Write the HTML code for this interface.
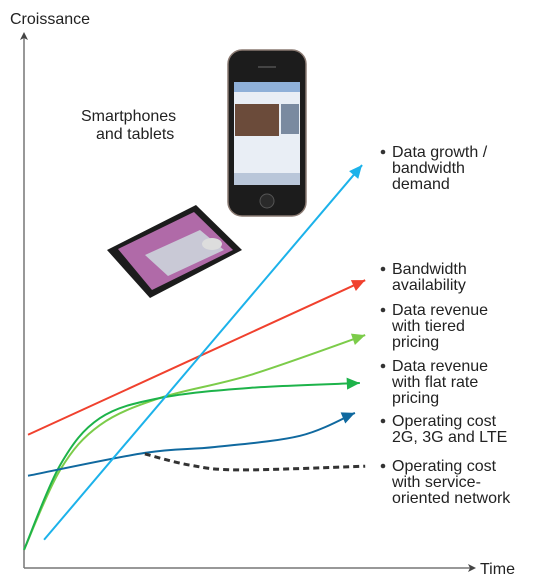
<!DOCTYPE html>
<html><head><meta charset="utf-8"><style>
body{margin:0;background:#fff;}
svg{display:block;font-family:"Liberation Sans",sans-serif;}
</style></head><body>
<svg id="chart" width="539" height="586" viewBox="0 0 539 586">
<defs>
<marker id="ax" markerWidth="8" markerHeight="8" refX="6" refY="4" orient="auto" markerUnits="userSpaceOnUse"><path d="M0,0 L8,4 L0,8 L2,4z" fill="#444"/></marker>
</defs>
<g><line x1="24" y1="568" x2="24" y2="34" stroke="#777" stroke-width="1.5" marker-end="url(#ax)"/></g>
<g><line x1="24" y1="568" x2="474" y2="568" stroke="#777" stroke-width="1.5" marker-end="url(#ax)"/></g>
<text x="10" y="24" font-size="16" fill="#222">Croissance</text>
<text x="480" y="574" font-size="16" fill="#222">Time</text>
<text font-size="16" fill="#222"><tspan x="81" y="121">Smartphones</tspan><tspan x="96" y="139">and tablets</tspan></text>
<g>
<rect x="228" y="50" width="78" height="166" rx="14" fill="#1c1c1c" stroke="#8a7a72" stroke-width="1.5"/>
<rect x="234" y="82" width="66" height="103" fill="#e9eef5"/>
<rect x="234" y="82" width="66" height="10" fill="#8fb0d8"/>
<rect x="235" y="104" width="44" height="32" fill="#6b4b3a"/>
<rect x="281" y="104" width="18" height="30" fill="#7a8aa0"/>
<rect x="234" y="173" width="66" height="12" fill="#b9c6d9"/>
<circle cx="267" cy="201" r="7" fill="#2a2a2a" stroke="#555"/>
<rect x="258" y="66" width="18" height="2" fill="#444"/>
</g>
<g>
<polygon points="107,250 196,205 242,250 150,298" fill="#1c1c1c"/>
<polygon points="118,249 194,212 233,250 152,290" fill="#b06aa8"/>
<polygon points="145,255 200,230 224,250 168,276" fill="#c9c9d6"/>
<ellipse cx="212" cy="244" rx="10" ry="6" fill="#ddd"/>
</g>
<g id="series"></g>
<g font-size="16" fill="#222">
<g><circle cx="383" cy="152" r="2.3" fill="#333"/><text><tspan x="392" y="157">Data growth /</tspan><tspan x="392" y="173">bandwidth</tspan><tspan x="392" y="189">demand</tspan></text></g>
<g><circle cx="383" cy="269" r="2.3" fill="#333"/><text><tspan x="392" y="274">Bandwidth</tspan><tspan x="392" y="290">availability</tspan></text></g>
<g><circle cx="383" cy="310" r="2.3" fill="#333"/><text><tspan x="392" y="315">Data revenue</tspan><tspan x="392" y="331">with tiered</tspan><tspan x="392" y="347">pricing</tspan></text></g>
<g><circle cx="383" cy="366" r="2.3" fill="#333"/><text><tspan x="392" y="371">Data revenue</tspan><tspan x="392" y="387">with flat rate</tspan><tspan x="392" y="403">pricing</tspan></text></g>
<g><circle cx="383" cy="421" r="2.3" fill="#333"/><text><tspan x="392" y="426">Operating cost</tspan><tspan x="392" y="442">2G, 3G and LTE</tspan></text></g>
<g><circle cx="383" cy="466" r="2.3" fill="#333"/><text><tspan x="392" y="471">Operating cost</tspan><tspan x="392" y="487">with service-</tspan><tspan x="392" y="503">oriented network</tspan></text></g>
</g>
</svg>
<script>
const seriesNames=["data-growth","bandwidth","tiered","flat","opcost","soa"];
const dataGrowthT=[0.45,7.58]; const dataGrowthV=[0.53,7.56];
const bandwidthT=[0.09,7.65]; const bandwidthV=[2.5,5.4];
const tieredT=[0,0.81,1.7,3.05,5.07,7.65]; const tieredV=[0.34,1.84,2.68,3.19,3.62,4.37];
const flatT=[0,0.81,1.7,3.05,5.07,7.53]; const flatV=[0.34,1.93,2.81,3.19,3.38,3.47];
const opcostT=[0.09,2.71,4.28,6.19,7.42]; const opcostV=[1.73,2.16,2.27,2.48,2.91];
const soaT=[2.71,3.72,4.84,7.65]; const soaV=[2.14,1.93,1.84,1.91];
const xs=t=>24+t*44.6, ys=v=>568-v*53.3;
const NS="http://www.w3.org/2000/svg", g=document.getElementById("series");
function pathD(T,V){const p=T.map((t,i)=>[xs(t),ys(V[i])]);let d="M"+p[0];
 for(let i=0;i<p.length-1;i++){const a=p[i-1]||p[i],b=p[i],c=p[i+1],e=p[i+2]||c;
 d+=" C"+(b[0]+(c[0]-a[0])/6)+","+(b[1]+(c[1]-a[1])/6)+" "+(c[0]-(e[0]-b[0])/6)+","+(c[1]-(e[1]-b[1])/6)+" "+c;}return [d,p];}
function draw(T,V,color,name,dashed){const [d,p]=pathD(T,V);
 const el=document.createElementNS(NS,"path");el.setAttribute("d",d);el.setAttribute("fill","none");
 el.setAttribute("stroke",color);el.setAttribute("stroke-width",dashed?3:2);
 if(dashed)el.setAttribute("stroke-dasharray","6 4");
 
 
 g.appendChild(el);
 if(!dashed){const b=p[p.length-1],a=p[p.length-2];const ang=Math.atan2(b[1]-a[1],b[0]-a[0]);
 const L=13,W=6;const pts=[b,[b[0]-L*Math.cos(ang)+W*Math.sin(ang),b[1]-L*Math.sin(ang)-W*Math.cos(ang)],[b[0]-L*Math.cos(ang)-W*Math.sin(ang),b[1]-L*Math.sin(ang)+W*Math.cos(ang)]];
 const ar=document.createElementNS(NS,"polygon");ar.setAttribute("points",pts.map(q=>q.join(",")).join(" "));ar.setAttribute("fill",color);
 
 
 g.appendChild(ar);}}
draw(bandwidthT,bandwidthV,"#f0412e","bandwidth");
draw(tieredT,tieredV,"#7ccc4a","tiered");
draw(flatT,flatV,"#1db34a","flat");
draw(opcostT,opcostV,"#10699f","opcost");
draw(soaT,soaV,"#333","soa",true);
draw(dataGrowthT,dataGrowthV,"#1cb2ea","data-growth");
</script>
</body></html>
